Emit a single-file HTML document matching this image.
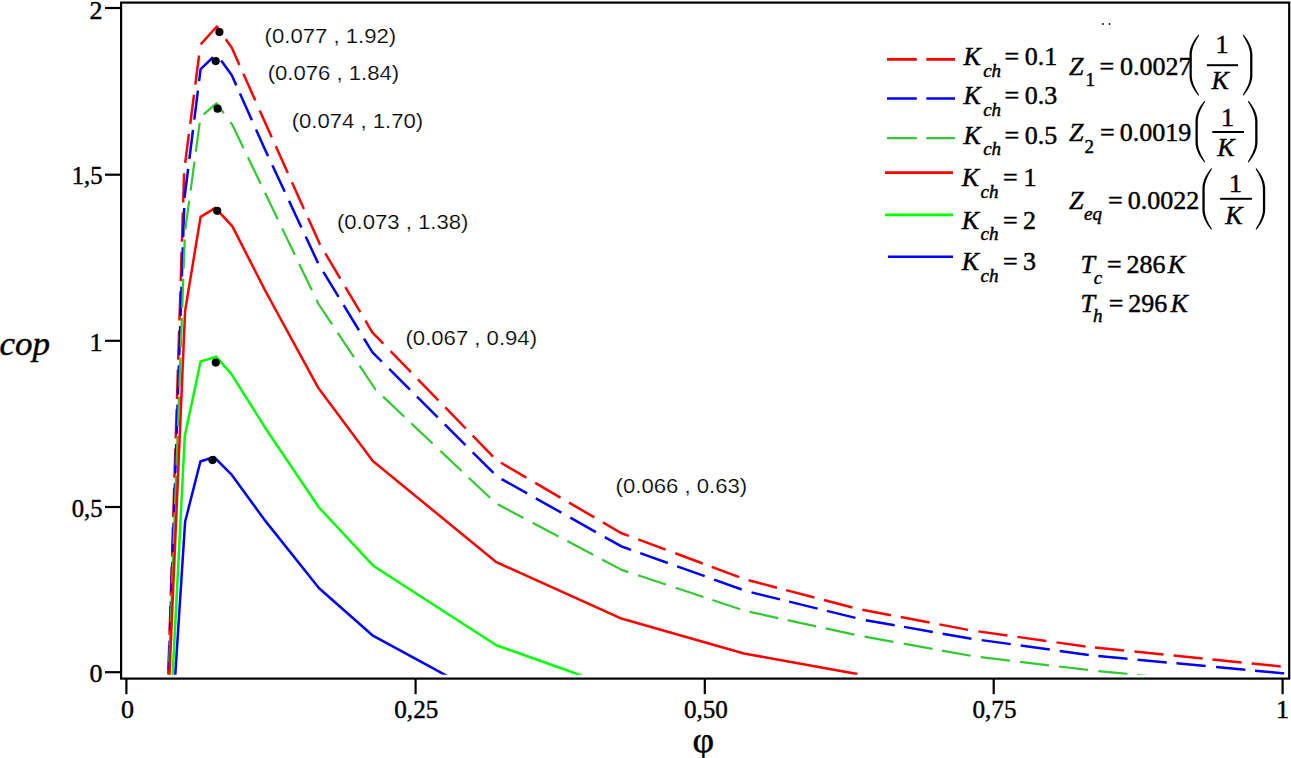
<!DOCTYPE html><html><head><meta charset="utf-8"><style>html,body{margin:0;padding:0;background:#fff;width:1291px;height:758px;overflow:hidden}svg{display:block}.s{font-family:"Liberation Serif",serif;stroke:#000;stroke-width:0.45px}.i{font-family:"Liberation Serif",serif;font-style:italic;stroke:#000;stroke-width:0.45px}.a{font-family:"Liberation Sans",sans-serif;stroke:#fff;stroke-width:0.2px}</style></head><body>
<svg width="1291" height="758" viewBox="0 0 1291 758">
<rect x="0" y="0" width="1291" height="758" fill="#fff"/>
<defs><clipPath id="pc"><rect x="121" y="0" width="1167.5" height="674.8"/></clipPath></defs>
<g clip-path="url(#pc)">
<polyline points="167.8,690 184.2,170.5 200.5,44.5 216.8,26.5 231.7,47.6 265,122.3 320,244.5 372.3,332.3 496.4,460.1 621,533 745,579.3 857,608.7 970,630.2 1090,647.1 1300,668.4" fill="none" stroke="#ff0000" stroke-width="2.5" stroke-linejoin="round" stroke-linecap="butt" stroke-dasharray="5.51 10.05 29.3 10.05 29.3 10.05 29.3 10.05 29.3 10.05 29.3 10.05 29.3 10.05 29.3 10.05 29.3 10.05 29.3 10.05 29.3 10.05 29.3 10.05 29.3 10.05 29.3 10.37 29.3 10.13 29.3 10.23 29.3 11.39 29.3 10.26 29.3 9.64 29.3 10.89 29.3 9.97 29.3 10.04 29.3 10.04 29.3 10.04 29.3 9.88 29.3 9.88 29.3 10.38 29.3 10 29.3 10 29.3 10 29.3 10.03 29.3 10.38 29.3 9.93 29.3 9.93 29.3 10 29.3 10.33 29.3 9.52 29.3 10 29.3 9.43 29.3 9.92 29.3 10.18 29.3 9.89 29.3 10 29.3 10.27 29.3 10.11 29.3 10.2 29.3 9.6 29.3 10.24 29.3 10.14 29.3 9.77 29.3 10.08 29.3 10.05 9.26 50"/>
<polyline points="168,690 184.5,198 200.6,69.1 216.5,54 231.8,75.3 265,149.5 318.5,264 372.3,352.1 497,476.5 621,546.2 746,591 862,619.5 970,638.5 1093,655.5 1300,674.9" fill="none" stroke="#0000ff" stroke-width="2.5" stroke-linejoin="round" stroke-linecap="butt" stroke-dasharray="10.12 10.05 29.3 10.05 29.3 10.05 29.3 10.05 29.3 10.05 29.3 10.05 29.3 10.05 29.3 10.05 29.3 10.05 29.3 10.05 29.3 10.05 29.3 10.05 29.3 10.05 29.3 9.9 29.3 10.38 29.3 9.54 29.3 12.67 29.3 8.91 29.3 10.06 29.3 10.06 29.3 10.06 29.3 10.06 29.3 10.25 29.3 9.74 29.3 9.74 29.3 10.42 29.3 9.98 29.3 9.98 29.3 10.16 29.3 10.22 29.3 10.03 29.3 10.25 29.3 10.25 29.3 9.71 29.3 9.89 29.3 9.98 29.3 10.29 29.3 9.43 29.3 9.67 29.3 10.61 29.3 9.46 29.3 9.92 29.3 10.34 29.3 10.09 29.3 10.07 29.3 9.63 29.3 10.1 29.3 9.81 29.3 10.51 29.3 9.78 29.3 10.05 5.83 50"/>
<polyline points="168.3,690 185,232 200.5,117 216.5,103.3 232.3,124.8 318.5,304 375.5,389.5 495.7,503.2 621.7,569.9 745,610.8 858,635.5 975,656.5 1090,670.2 1288,690" fill="none" stroke="#32c832" stroke-width="2.2" stroke-linejoin="round" stroke-linecap="butt" stroke-dasharray="18.03 10.05 29.3 10.05 29.3 10.05 29.3 10.05 29.3 10.05 29.3 10.05 29.3 10.05 29.3 10.05 29.3 10.05 29.3 10.05 29.3 10.05 29.3 9.69 29.3 10.2 29.3 9.96 29.3 9.84 29.3 10.97 29.3 10.13 29.3 10.13 29.3 10.13 29.3 10.13 29.3 10.5 29.3 10.03 29.3 10.03 29.3 9.89 29.3 9.54 29.3 10.75 29.3 9.73 29.3 10.07 29.3 10.2 29.3 9.96 29.3 9.96 29.3 10.25 29.3 10.32 29.3 9.41 29.3 9.72 29.3 9.63 29.3 9.68 29.3 10.44 29.3 10.44 29.3 9.45 29.3 10.22 29.3 10.11 29.3 9.96 29.3 10.41 29.3 9.7 29.3 10.05 29.3 10.05 29.3 10.05 29.3 54.3"/>
<polyline points="168.8,690 185.1,310.9 200.6,216.9 215.3,207.9 232.4,226.4 265.4,291 318,387.4 372.8,461 496.4,562.2 620.4,618.2 744,653.5 857.5,674.1" fill="none" stroke="#ff0000" stroke-width="2.5" stroke-linejoin="round" stroke-linecap="butt"/>
<polyline points="171.9,690 184.8,436 200.6,361.5 216.3,356.8 231.3,373.8 265.1,427.7 319,507.5 373.2,565.7 496.4,645.3 550,664.3 622.4,690" fill="none" stroke="#00ff00" stroke-width="2.5" stroke-linejoin="round" stroke-linecap="butt"/>
<polyline points="174.3,690 185.1,521.8 200.4,461.5 214,457 231.3,474.3 264.3,519.6 319.1,588.2 372.4,635.3 430,666.7 472.8,690" fill="none" stroke="#0000ff" stroke-width="2.5" stroke-linejoin="round" stroke-linecap="butt"/>
</g>
<circle cx="219.4" cy="32.1" r="4.1" fill="#000"/>
<circle cx="215.7" cy="61.1" r="4.1" fill="#000"/>
<circle cx="217.6" cy="108.7" r="4.1" fill="#000"/>
<circle cx="217.2" cy="210.8" r="4.1" fill="#000"/>
<circle cx="215.8" cy="362.6" r="4.1" fill="#000"/>
<circle cx="212.5" cy="460.1" r="4.1" fill="#000"/>
<g stroke="#000" stroke-width="2.2" fill="none">
<rect x="121.1" y="2.6" width="1168.1" height="676" />
<line x1="105" y1="8" x2="121" y2="8"/>
<line x1="105" y1="174.7" x2="121" y2="174.7"/>
<line x1="105" y1="340.8" x2="121" y2="340.8"/>
<line x1="105" y1="507" x2="121" y2="507"/>
<line x1="105" y1="672.2" x2="121" y2="672.2"/>
<line x1="126.4" y1="679" x2="126.4" y2="694.2"/>
<line x1="415.6" y1="679" x2="415.6" y2="694.2"/>
<line x1="704.8" y1="679" x2="704.8" y2="694.2"/>
<line x1="993.7" y1="679" x2="993.7" y2="694.2"/>
<line x1="1282.6" y1="679" x2="1282.6" y2="694.2"/>
</g>
<g class="s" font-size="26" text-anchor="end" fill="#000">
<text x="102.6" y="18.6">2</text>
<text x="102.6" y="184.2" textLength="30.8" lengthAdjust="spacingAndGlyphs">1,5</text>
<text x="102.6" y="350.9">1</text>
<text x="102.6" y="516.5" textLength="30.8" lengthAdjust="spacingAndGlyphs">0,5</text>
<text x="102.6" y="682.3">0</text>
</g>
<g class="s" font-size="26" text-anchor="middle" fill="#000">
<text x="127.4" y="718.2">0</text>
<text x="416.3" y="718.2" textLength="44" lengthAdjust="spacingAndGlyphs">0,25</text>
<text x="705.9" y="718.2" textLength="44" lengthAdjust="spacingAndGlyphs">0,50</text>
<text x="994.5" y="718.2" textLength="44" lengthAdjust="spacingAndGlyphs">0,75</text>
<text x="1282.5" y="718.2">1</text>
</g>
<text class="i" font-size="34" x="-0.5" y="354.8" textLength="50.5" lengthAdjust="spacingAndGlyphs">cop</text>
<text class="s" font-size="35" transform="translate(692.6,752) scale(1.07,1)">&#966;</text>
<g class="a" font-size="20" fill="#000">
<text x="264.6" y="43.2" textLength="131.5" lengthAdjust="spacingAndGlyphs">(0.077 , 1.92)</text>
<text x="267.7" y="79.6" textLength="131.5" lengthAdjust="spacingAndGlyphs">(0.076 , 1.84)</text>
<text x="291.7" y="127.7" textLength="131.5" lengthAdjust="spacingAndGlyphs">(0.074 , 1.70)</text>
<text x="336.9" y="228.5" textLength="131.5" lengthAdjust="spacingAndGlyphs">(0.073 , 1.38)</text>
<text x="405.5" y="345.3" textLength="131.5" lengthAdjust="spacingAndGlyphs">(0.067 , 0.94)</text>
<text x="615.6" y="492.9" textLength="131.5" lengthAdjust="spacingAndGlyphs">(0.066 , 0.63)</text>
</g>
<line x1="887" y1="59.4" x2="955" y2="59.4" stroke="#ff0000" stroke-width="2.6" stroke-dasharray="29.8 9.5"/>
<line x1="887" y1="98.5" x2="955" y2="98.5" stroke="#0000ff" stroke-width="2.6" stroke-dasharray="29.8 9.5"/>
<line x1="887" y1="138.1" x2="955" y2="138.1" stroke="#32c832" stroke-width="2.2" stroke-dasharray="29.8 9.5"/>
<line x1="885" y1="172.6" x2="953" y2="172.6" stroke="#ff0000" stroke-width="2.6"/>
<line x1="885" y1="214.9" x2="953" y2="214.9" stroke="#00ff00" stroke-width="2.6"/>
<line x1="888" y1="256.8" x2="953" y2="256.8" stroke="#0000ff" stroke-width="2.6"/>
<text font-size="26" y="65.2"><tspan class="i" x="963.5">K</tspan><tspan class="i" font-size="19" x="983.2" dy="11.6">ch</tspan><tspan class="s" x="1004.4" dy="-11.6">=</tspan><tspan class="s" x="1024.7">0.1</tspan></text>
<text font-size="26" y="104.2"><tspan class="i" x="963.5">K</tspan><tspan class="i" font-size="19" x="983.2" dy="11.6">ch</tspan><tspan class="s" x="1004.4" dy="-11.6">=</tspan><tspan class="s" x="1024.7">0.3</tspan></text>
<text font-size="26" y="143.6"><tspan class="i" x="963.5">K</tspan><tspan class="i" font-size="19" x="983.2" dy="11.6">ch</tspan><tspan class="s" x="1004.4" dy="-11.6">=</tspan><tspan class="s" x="1024.7">0.5</tspan></text>
<text font-size="26" y="186.2"><tspan class="i" x="961.8">K</tspan><tspan class="i" font-size="19" x="980.5" dy="11.6">ch</tspan><tspan class="s" x="1003" dy="-11.6">=</tspan><tspan class="s" x="1023.4">1</tspan></text>
<text font-size="26" y="228.6"><tspan class="i" x="961.8">K</tspan><tspan class="i" font-size="19" x="980.5" dy="11.6">ch</tspan><tspan class="s" x="1003" dy="-11.6">=</tspan><tspan class="s" x="1023">2</tspan></text>
<text font-size="26" y="270.2"><tspan class="i" x="961.8">K</tspan><tspan class="i" font-size="19" x="980.5" dy="11.6">ch</tspan><tspan class="s" x="1003" dy="-11.6">=</tspan><tspan class="s" x="1023">3</tspan></text>
<text class="i" font-size="26" x="1069" y="74.8">Z</text>
<text class="s" font-size="19" x="1085.4" y="85.8">1</text>
<text class="s" font-size="26" x="1099.5" y="74.8">=</text>
<text class="s" font-size="26" x="1120" y="74.8">0.0027</text>
<path d="M1198.5,34.6 C1194.3,39.5 1189.5,46.8 1189.5,54.8 L1189.5,75.6 C1189.5,83.6 1194.3,90.9 1198.5,95.8 L1199.1,94.9 C1195.9,89.7 1191.8,82.9 1191.8,75.6 L1191.8,54.8 C1191.8,47.5 1195.9,40.7 1199.1,35.5 Z" fill="#000"/>
<path d="M1243.4,34.6 C1247.6,39.5 1252.4,46.8 1252.4,54.8 L1252.4,75.6 C1252.4,83.6 1247.6,90.9 1243.4,95.8 L1242.8,94.9 C1246,89.7 1250.1,82.9 1250.1,75.6 L1250.1,54.8 C1250.1,47.5 1246,40.7 1242.8,35.5 Z" fill="#000"/>
<text class="s" font-size="26" x="1215.5" y="52.6">1</text>
<line x1="1206.9" y1="65.2" x2="1238" y2="65.2" stroke="#000" stroke-width="2"/>
<text class="i" font-size="26" x="1211.5" y="89.2">K</text>
<text class="i" font-size="26" x="1069" y="141.4">Z</text>
<text class="s" font-size="19" x="1084.4" y="152.9">2</text>
<text class="s" font-size="26" x="1100" y="141.4">=</text>
<text class="s" font-size="26" x="1119.8" y="141.4">0.0019</text>
<path d="M1204.5,100.8 C1200.3,105.7 1195.5,113.1 1195.5,121.2 L1195.5,142.1 C1195.5,150.2 1200.3,157.6 1204.5,162.5 L1205.1,161.6 C1201.9,156.3 1197.8,149.5 1197.8,142.1 L1197.8,121.2 C1197.8,113.8 1201.9,107 1205.1,101.7 Z" fill="#000"/>
<path d="M1248.5,100.8 C1252.7,105.7 1257.5,113.1 1257.5,121.2 L1257.5,142.1 C1257.5,150.2 1252.7,157.6 1248.5,162.5 L1247.9,161.6 C1251.1,156.3 1255.2,149.5 1255.2,142.1 L1255.2,121.2 C1255.2,113.8 1251.1,107 1247.9,101.7 Z" fill="#000"/>
<text class="s" font-size="26" x="1221.1" y="125.6">1</text>
<line x1="1212.3" y1="132" x2="1244" y2="132" stroke="#000" stroke-width="2"/>
<text class="i" font-size="26" x="1217.3" y="156.3">K</text>
<text class="i" font-size="26" x="1069" y="208.7">Z</text>
<text class="i" font-size="19" x="1084" y="220.4">eq</text>
<text class="s" font-size="26" x="1108" y="208.7">=</text>
<text class="s" font-size="26" x="1127.7" y="208.7">0.0022</text>
<path d="M1211.4,168 C1207.2,172.9 1202.4,180.4 1202.4,188.4 L1202.4,209.4 C1202.4,217.4 1207.2,224.9 1211.4,229.8 L1212,228.9 C1208.8,223.6 1204.7,216.8 1204.7,209.4 L1204.7,188.4 C1204.7,181 1208.8,174.2 1212,168.9 Z" fill="#000"/>
<path d="M1256.2,168 C1260.4,172.9 1265.2,180.4 1265.2,188.4 L1265.2,209.4 C1265.2,217.4 1260.4,224.9 1256.2,229.8 L1255.6,228.9 C1258.8,223.6 1262.9,216.8 1262.9,209.4 L1262.9,188.4 C1262.9,181 1258.8,174.2 1255.6,168.9 Z" fill="#000"/>
<text class="s" font-size="26" x="1229" y="191.9">1</text>
<line x1="1220.2" y1="198.8" x2="1251.9" y2="198.8" stroke="#000" stroke-width="2"/>
<text class="i" font-size="26" x="1225.2" y="223.5">K</text>
<text class="i" font-size="26" x="1080.5" y="272.7">T</text>
<text class="i" font-size="19" x="1093.8" y="284">c</text>
<text class="s" font-size="26" x="1107" y="272.7">=</text>
<text class="s" font-size="26" x="1126.5" y="272.7">286</text>
<text class="i" font-size="26" x="1167.8" y="272.7">K</text>
<text class="i" font-size="26" x="1080.5" y="311.9">T</text>
<text class="i" font-size="19" x="1093" y="321.6">h</text>
<text class="s" font-size="26" x="1108.8" y="311.9">=</text>
<text class="s" font-size="26" x="1128.3" y="311.9">296</text>
<text class="i" font-size="26" x="1170.4" y="311.9">K</text>
<circle cx="1103" cy="24" r="0.9" fill="#000"/><circle cx="1109.5" cy="24" r="0.9" fill="#000"/>
</svg></body></html>
